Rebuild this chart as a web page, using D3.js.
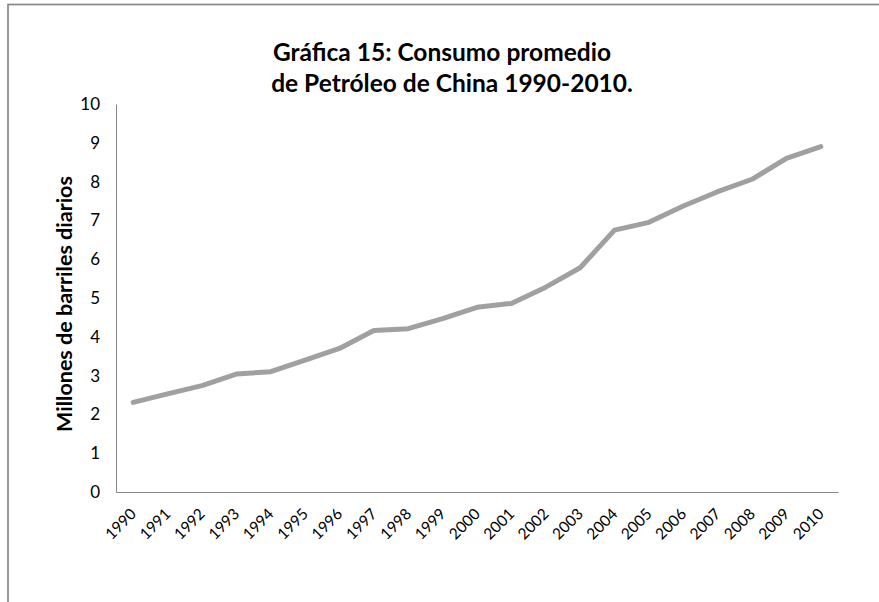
<!DOCTYPE html>
<html>
<head>
<meta charset="utf-8">
<script src="https://cdn.jsdelivr.net/npm/d3@7"></script>
<style>
  html, body { margin: 0; padding: 0; background: #ffffff; }
  svg { display: block; }
  text { font-family: Lato, "Open Sans", "Liberation Sans", sans-serif; fill: #000; }
</style>
</head>
<body>
<svg id="chart" width="879" height="602"></svg>
<script>
// Consumo promedio de petróleo de China, millones de barriles diarios
const years = ["1990","1991","1992","1993","1994","1995","1996","1997","1998","1999","2000",
               "2001","2002","2003","2004","2005","2006","2007","2008","2009","2010"];
const consumo = [2.31, 2.53, 2.74, 3.04, 3.10, 3.40, 3.70, 4.16, 4.21, 4.47, 4.76,
                 4.86, 5.28, 5.78, 6.75, 6.95, 7.37, 7.74, 8.06, 8.60, 8.90];
const yTicks = [0, 1, 2, 3, 4, 5, 6, 7, 8, 9, 10];
const titleLines = ["Gráfica 15: Consumo promedio", "de Petróleo de China 1990-2010."];
const yTitle = "Millones de barriles diarios";

const svg = d3.select("#chart");
const W = 879, H = 602;
const plot = { left: 116, right: 838, top: 104, bottom: 492 };

// Outer frame of the chart area
svg.append("rect")
  .attr("x", 8).attr("y", 4.5)
  .attr("width", W + 20).attr("height", H + 20)
  .attr("fill", "#fff")
  .attr("stroke", "#888888").attr("stroke-width", 1.7);

const x = d3.scaleBand().domain(years).range([plot.left, plot.right]).paddingInner(0).paddingOuter(0);
const y = d3.scaleLinear().domain([0, 10]).range([plot.bottom, plot.top]);
const cx = d => x(d) + x.bandwidth() / 2;

// Title, two centred lines
const titleX = [442, 452];
svg.append("g").selectAll("text").data(titleLines).join("text")
  .attr("x", (d, i) => titleX[i])
  .attr("y", (d, i) => 61 + i * 31)
  .attr("text-anchor", "middle")
  .style("font-weight", "700")
  .style("font-size", "24.5px")
  .text(d => d);

// Y axis
const yAxis = svg.append("g")
  .attr("transform", `translate(${plot.left},0)`)
  .call(d3.axisLeft(y).tickValues(yTicks).tickSize(0).tickPadding(16).tickFormat(d3.format("d")));
yAxis.select(".domain").attr("stroke", "#868686").attr("stroke-width", 1);
yAxis.selectAll("text").style("font-size", "17px").attr("fill", "#000")
  .attr("font-family", null);

// X axis
const xAxis = svg.append("g")
  .attr("transform", `translate(0,${plot.bottom})`)
  .call(d3.axisBottom(x).tickSize(0).tickFormat(d => d));
xAxis.select(".domain").attr("stroke", "#868686").attr("stroke-width", 1);
xAxis.selectAll(".tick text")
  .attr("font-family", null)
  .style("font-size", "15.5px")
  .attr("fill", "#000")
  .attr("text-anchor", "end")
  .attr("dy", null)
  .attr("y", null)
  .attr("transform", "translate(4,23) rotate(-45)");

// Y axis title
svg.append("text")
  .attr("transform", `translate(64,${(plot.top + plot.bottom) / 2 + 6}) rotate(-90)`)
  .attr("text-anchor", "middle")
  .attr("dominant-baseline", "central")
  .style("font-weight", "700")
  .style("font-size", "21.5px")
  .text(yTitle);

// Series line
const line = d3.line().x((d, i) => cx(years[i])).y(d => y(d));
svg.append("path")
  .datum(consumo)
  .attr("d", line)
  .attr("fill", "none")
  .attr("stroke", "#a0a0a0")
  .attr("stroke-width", 5)
  .attr("stroke-linecap", "round")
  .attr("stroke-linejoin", "round");
</script>
</body>
</html>
